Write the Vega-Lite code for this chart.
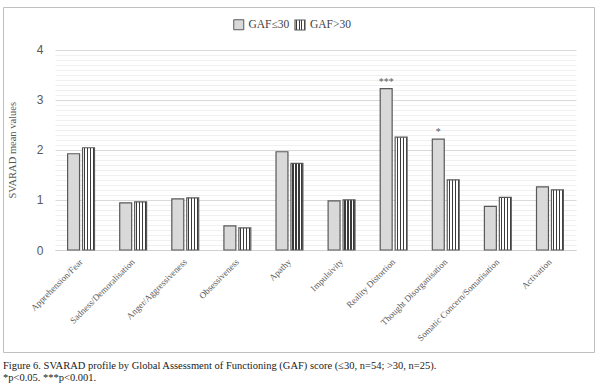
{
  "$schema": "https://vega.github.io/schema/vega-lite/v6.json",
  "autosize": "none",
  "width": 591,
  "height": 345,
  "padding": {"left": 3, "top": 7, "right": 6, "bottom": 38},
  "background": "white",
  "config": {
    "view": {"stroke": "#bfbfbf", "strokeWidth": 1},
    "font": "Liberation Serif",
    "legend": {
      "title": null,
      "orient": "none",
      "direction": "horizontal",
      "symbolType": "square",
      "symbolSize": 100,
      "labelFont": "Liberation Serif",
      "labelFontSize": 11.5,
      "labelColor": "#404040",
      "labelOffset": 4
    }
  },
  "title": {
    "text": ["Figure 6. SVARAD profile by Global Assessment of Functioning (GAF) score (≤30, n=54; >30, n=25).", "*p<0.05. ***p<0.001."],
    "orient": "bottom",
    "anchor": "start",
    "frame": "group",
    "offset": 9,
    "font": "Liberation Serif",
    "fontSize": 10.5,
    "fontWeight": "normal",
    "color": "#1a1a1a",
    "lineHeight": 12
  },
  "data": {
    "values": [
      {"item": "Apprehension/Fear", "group": "GAF≤30", "value": 1.92, "sig": ""},
      {"item": "Apprehension/Fear", "group": "GAF>30", "value": 2.04, "sig": ""},
      {"item": "Sadness/Demoralisation", "group": "GAF≤30", "value": 0.94, "sig": ""},
      {"item": "Sadness/Demoralisation", "group": "GAF>30", "value": 0.96, "sig": ""},
      {"item": "Anger/Aggressiveness", "group": "GAF≤30", "value": 1.02, "sig": ""},
      {"item": "Anger/Aggressiveness", "group": "GAF>30", "value": 1.04, "sig": ""},
      {"item": "Obsessiveness", "group": "GAF≤30", "value": 0.48, "sig": ""},
      {"item": "Obsessiveness", "group": "GAF>30", "value": 0.44, "sig": ""},
      {"item": "Apathy", "group": "GAF≤30", "value": 1.96, "sig": ""},
      {"item": "Apathy", "group": "GAF>30", "value": 1.73, "sig": ""},
      {"item": "Impulsivity", "group": "GAF≤30", "value": 0.98, "sig": ""},
      {"item": "Impulsivity", "group": "GAF>30", "value": 1.0, "sig": ""},
      {"item": "Reality Distortion", "group": "GAF≤30", "value": 3.22, "sig": "***"},
      {"item": "Reality Distortion", "group": "GAF>30", "value": 2.25, "sig": ""},
      {"item": "Thought Disorganisation", "group": "GAF≤30", "value": 2.21, "sig": "*"},
      {"item": "Thought Disorganisation", "group": "GAF>30", "value": 1.4, "sig": ""},
      {"item": "Somatic Concern/Somatisation", "group": "GAF≤30", "value": 0.87, "sig": ""},
      {"item": "Somatic Concern/Somatisation", "group": "GAF>30", "value": 1.05, "sig": ""},
      {"item": "Activation", "group": "GAF≤30", "value": 1.26, "sig": ""},
      {"item": "Activation", "group": "GAF>30", "value": 1.2, "sig": ""}
    ]
  },
  "encoding": {
    "x": {
      "field": "item",
      "type": "nominal",
      "sort": null,
      "scale": {"range": [52, 573], "paddingInner": 0.484, "paddingOuter": 0.242},
      "axis": {
        "title": null,
        "orient": "bottom",
        "offset": -102,
        "labelAngle": -45,
        "labelAlign": "right",
        "labelBaseline": "middle",
        "labelFontSize": 9,
        "labelFont": "Liberation Serif",
        "labelColor": "#595959",
        "labelPadding": 10,
        "labelLimit": 200,
        "ticks": false,
        "domainColor": "#d0d0d0",
        "domainWidth": 1,
        "grid": false
      }
    },
    "xOffset": {
      "field": "group",
      "type": "nominal",
      "sort": ["GAF≤30", "GAF>30"],
      "scale": {"domain": ["GAF≤30", "GAF>30"], "paddingInner": 0.2, "paddingOuter": 0}
    },
    "y": {
      "field": "value",
      "type": "quantitative",
      "scale": {"domain": [0, 4], "range": [243, 42.5], "nice": false, "zero": true},
      "axis": {
        "title": "SVARAD mean values",
        "titleFont": "Liberation Serif",
        "titleFontSize": 10.5,
        "titleFontWeight": "normal",
        "titleColor": "#595959",
        "titlePadding": 19,
        "orient": "left",
        "offset": -52,
        "values": [0, 0.1, 0.2, 0.3, 0.4, 0.5, 0.6, 0.7, 0.8, 0.9, 1, 1.1, 1.2, 1.3, 1.4, 1.5, 1.6, 1.7, 1.8, 1.9, 2, 2.1, 2.2, 2.3, 2.4, 2.5, 2.6, 2.7, 2.8, 2.9, 3, 3.1, 3.2, 3.3, 3.4, 3.5, 3.6, 3.7, 3.8, 3.9, 4],
        "labelExpr": "abs(datum.value - round(datum.value)) < 0.001 ? toString(round(datum.value)) : ''",
        "labelFont": "Liberation Sans",
        "labelFontSize": 12,
        "labelColor": "#595959",
        "labelPadding": 12,
        "labelOverlap": false,
        "ticks": false,
        "domain": false,
        "grid": true,
        "gridColor": {"condition": {"test": "abs(datum.value - round(datum.value)) < 0.001", "value": "#d9d9d9"}, "value": "#f0f0f0"},
        "gridWidth": 1,
        "zindex": 0
      }
    }
  },
  "layer": [
    {
      "transform": [{"filter": "datum.group === 'GAF≤30'"}],
      "mark": {"type": "bar", "stroke": "#595959", "strokeWidth": 1.2, "fill": "#d9d9d9"},
      "encoding": {
        "opacity": {
          "field": "group",
          "type": "nominal",
          "scale": {"range": [1, 1]},
          "legend": {"legendX": 230, "legendY": 12, "symbolStrokeWidth": 1}
        }
      }
    },
    {
      "transform": [{"filter": "datum.group === 'GAF>30'"}],
      "mark": {
        "type": "bar",
        "stroke": "#595959",
        "fill": {
          "gradient": "linear",
          "x1": 0, "y1": 0, "x2": 1, "y2": 0,
          "stops": [
            {"offset": 0, "color": "#ffffff"},
            {"offset": 0.12, "color": "#ffffff"},
            {"offset": 0.12, "color": "#3a3a3a"},
            {"offset": 0.22, "color": "#3a3a3a"},
            {"offset": 0.22, "color": "#ffffff"},
            {"offset": 0.37, "color": "#ffffff"},
            {"offset": 0.37, "color": "#3a3a3a"},
            {"offset": 0.47, "color": "#3a3a3a"},
            {"offset": 0.47, "color": "#ffffff"},
            {"offset": 0.62, "color": "#ffffff"},
            {"offset": 0.62, "color": "#3a3a3a"},
            {"offset": 0.72, "color": "#3a3a3a"},
            {"offset": 0.72, "color": "#ffffff"},
            {"offset": 0.87, "color": "#ffffff"},
            {"offset": 0.87, "color": "#3a3a3a"},
            {"offset": 0.97, "color": "#3a3a3a"},
            {"offset": 0.97, "color": "#ffffff"},
            {"offset": 1, "color": "#ffffff"}
          ]
        }
      },
      "encoding": {
        "strokeWidth": {
          "field": "group",
          "type": "ordinal",
          "sort": "descending",
          "scale": {"range": [1.2, 1.2]},
          "legend": {"legendX": 291, "legendY": 12}
        }
      }
    },
    {
      "transform": [{"filter": "datum.sig != ''"}],
      "mark": {"type": "text", "baseline": "bottom", "dy": -2, "fontSize": 10, "font": "Liberation Serif", "color": "#595959"},
      "encoding": {"text": {"field": "sig"}}
    }
  ],
  "resolve": {"scale": {"opacity": "independent", "strokeWidth": "independent"}, "legend": {"opacity": "independent", "strokeWidth": "independent"}}
}
